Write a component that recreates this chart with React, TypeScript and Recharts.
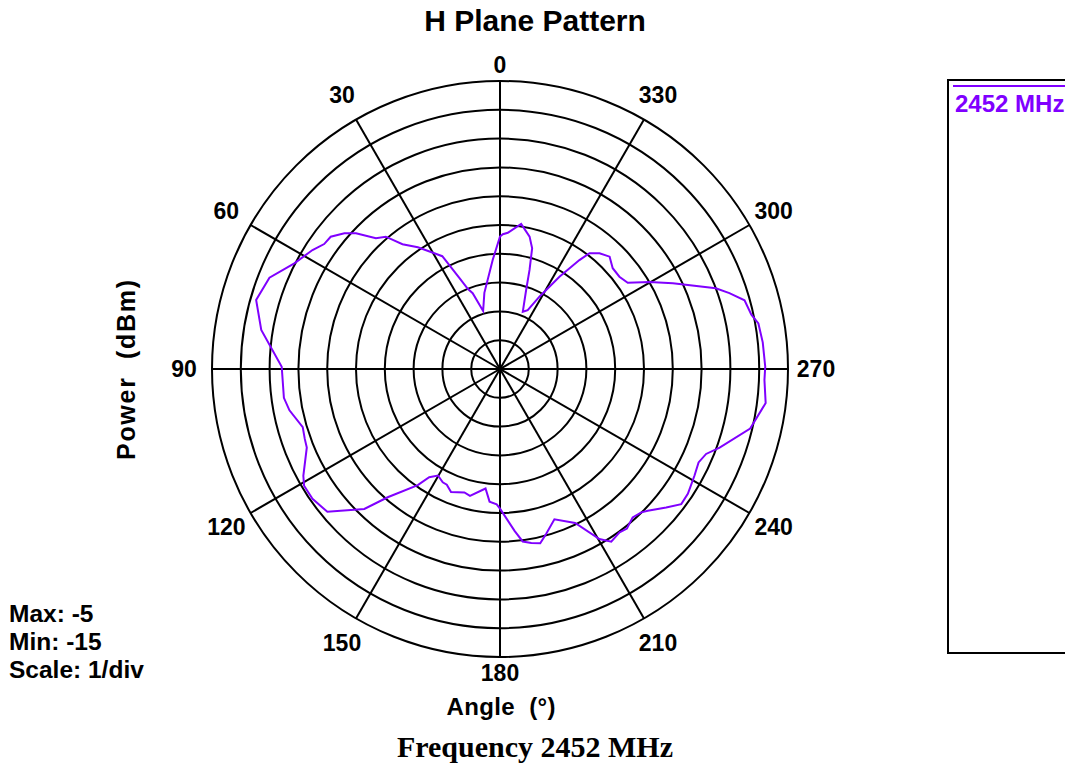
import React from "react";
import { RadarChart, Radar, PolarGrid, PolarAngleAxis, PolarRadiusAxis } from "recharts";

// measured angle (deg) and power (dBm), 2452 MHz
const angles = [
  0, 3.8, 11.6, 16.2, 19.8, 21.9, 23.8, 27.1, 34, 38, 40.8, 43.5, 46.7, 48.9, 52, 54.6, 57.6, 62.8,
  68.4, 74.2, 80.7, 89.4, 97.6, 101.1, 106.4, 109.7, 112.1, 118.5, 120.8, 124.7, 129.6, 135.9, 138.8,
  144.7, 146.8, 149.8, 153.2, 155.3, 158.3, 163.9, 166.7, 173.1, 175.5, 178.6, 180, 185.2, 187.5, 190.2,
  193, 195.6, 199.9, 206, 210.3, 212.8, 216.2, 218.5, 221.8, 224.6, 226.2, 230.2, 233.3, 236.4, 238.1,
  241.3, 244.8, 247.6, 250.3, 256.6, 262.7, 267.6, 270.5, 275.8, 280, 282.2, 285.7, 288.3, 290.5, 296.4,
  300.2, 304, 307.7, 311.8, 315.7, 319.3, 322.3, 323.9, 327.2, 331.4, 334.8, 338.3, 341.7, 343.4, 345.1,
  347.4, 351.7, 356.7, 358.8,
];
const power = [
  -10.4, -11.2, -12.3, -12.9, -12.2, -12.0, -11.6, -10.6, -9.9, -9.5, -8.93, -8.74, -8.13, -7.83, -7.54,
  -7.51, -7.29, -6.97, -6.39, -6.2, -6.6, -7.42, -7.43, -7.55, -7.86, -7.8, -7.76, -7.23, -7.08, -7.08,
  -7.22, -8.23, -9.08, -10.06, -10.51, -10.72, -10.59, -10.58, -10.4, -10.54, -10.47, -10.82, -10.38,
  -10.3, -10.15, -9.35, -8.96, -8.86, -8.79, -9.05, -9.45, -9.05, -8.16, -7.87, -7.97, -7.92, -8.09,
  -8.01, -7.89, -7.49, -7.15, -7.17, -7.22, -7.3, -7.38, -7.26, -6.9, -6.07, -5.7, -5.81, -5.79, -5.83,
  -5.89, -6.07, -6.18, -6.61, -7.0, -8.3, -8.99, -9.65, -9.76, -9.75, -9.55, -9.7, -9.92, -10.32,
  -11.19, -12.14, -12.74, -12.86, -12.11, -11.41, -10.66, -10.29, -9.91, -10.26, -10.32,
];
const angleTicks = [0, 30, 60, 90, 120, 150, 180, 210, 240, 270, 300, 330];
const radiusTicks = [-15, -14, -13, -12, -11, -10, -9, -8, -7, -6, -5];
const seriesName = "2452 MHz";

const MIN = -15;
const MAX = -5;
const CX = 500;
const CY = 369;
const R = 288;
const PURPLE = "#8000ff";
const FONT = "'Liberation Sans', Arial, sans-serif";

const data = angles.map((a, i) => ({ angle: a, power: power[i] }));

function AngleTick(props: any) {
  const { x, y, payload } = props;
  if (payload.value >= 360) return null;
  const cx = props.cx ?? CX;
  const cy = props.cy ?? CY;
  const dx = x - cx;
  const dy = y - cy;
  const len = Math.hypot(dx, dy) || 1;
  // top/bottom labels sit closer to the ring than the others
  const r = Math.abs(dx / len) < 0.01 ? 304 : 316;
  return (
    <text
      x={cx + (dx / len) * r}
      y={cy + (dy / len) * r}
      textAnchor="middle"
      dominantBaseline="central"
      fontFamily={FONT}
      fontWeight="bold"
      fontSize={23}
      fill="#000"
    >
      {payload.value}
    </text>
  );
}

export default function App() {
  return (
    <div style={{ position: "absolute", left: 0, top: 0, width: 1065, height: 770, background: "#fff", overflow: "hidden" }}>
      <div style={{ position: "absolute", left: 0, top: 0 }}>
        <RadarChart
          width={1065}
          height={770}
          data={data}
          cx={CX}
          cy={CY}
          outerRadius={R}
          startAngle={90}
          endAngle={450}
          margin={{ top: 0, right: 0, bottom: 0, left: 0 }}
        >
          <PolarGrid
            gridType="circle"
            polarAngles={angleTicks.map((a) => 90 + a)}
            polarRadius={radiusTicks.map((v) => ((v - MIN) / (MAX - MIN)) * R)}
            stroke="#000"
            strokeWidth={2}
            strokeOpacity={1}
          />
          <PolarAngleAxis
            dataKey="angle"
            type="number"
            domain={[0, 360]}
            tickCount={13}
            tick={<AngleTick />}
            tickLine={false}
            axisLine={false}
          />
          <PolarRadiusAxis
            type="number"
            domain={[MIN, MAX]}
            tickCount={11}
            tick={false}
            axisLine={false}
          />
          <Radar
            name={seriesName}
            dataKey="power"
            stroke={PURPLE}
            strokeWidth={2}
            fill="none"
            fillOpacity={0}
            dot={false}
            isAnimationActive={false}
          />
        </RadarChart>
      </div>
      <svg width={1065} height={770} style={{ position: "absolute", left: 0, top: 0, pointerEvents: "none" }}>
        <text x={535} y={31} textAnchor="middle" fontFamily={FONT} fontWeight="bold" fontSize={30}>
          H Plane Pattern
        </text>
        <text
          x={135}
          y={370}
          transform="rotate(-90 135 370)"
          textAnchor="middle"
          fontFamily={FONT}
          fontWeight="bold"
          fontSize={25}
          textLength={180}
          lengthAdjust="spacing"
          style={{ whiteSpace: "pre" }}
        >
          {"Power  (dBm)"}
        </text>
        <text
          x={501}
          y={715}
          textAnchor="middle"
          fontFamily={FONT}
          fontWeight="bold"
          fontSize={24}
          textLength={109}
          lengthAdjust="spacing"
          style={{ whiteSpace: "pre" }}
        >
          {"Angle  (°)"}
        </text>
        <text x={535} y={757} textAnchor="middle" fontFamily="'Liberation Serif', 'Times New Roman', serif" fontWeight="bold" fontSize={30}>
          Frequency 2452 MHz
        </text>
        <g fontFamily={FONT} fontWeight="bold" fontSize={24.5}>
          <text x={9} y={622}>Max: -5</text>
          <text x={9} y={650}>Min: -15</text>
          <text x={9} y={678}>Scale: 1/div</text>
        </g>
        <rect x={948} y={80} width={200} height={573} fill="none" stroke="#000" strokeWidth={2} />
        <line x1={953} y1={86} x2={1065} y2={86} stroke={PURPLE} strokeWidth={2} />
        <text x={955} y={112} fontFamily={FONT} fontWeight="bold" fontSize={24} fill={PURPLE}>
          {seriesName}
        </text>
      </svg>
    </div>
  );
}
